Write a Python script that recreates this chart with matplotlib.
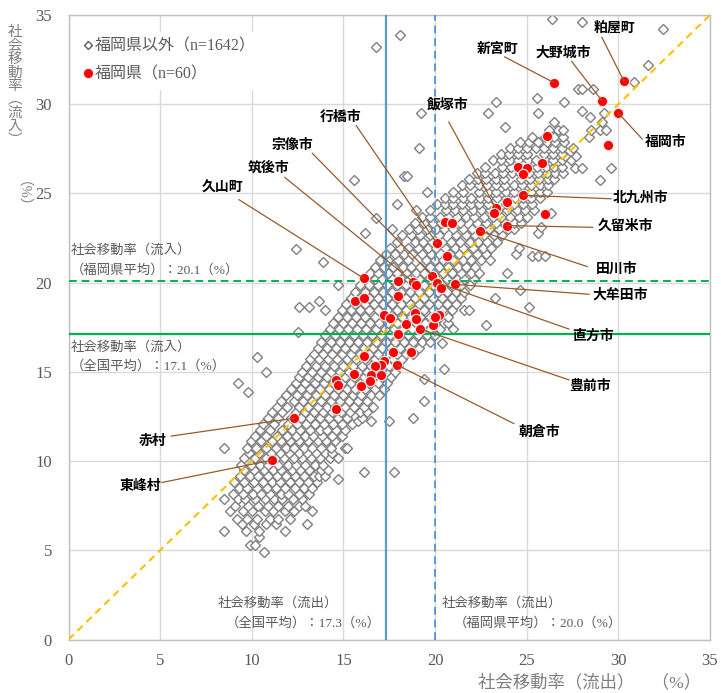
import matplotlib
matplotlib.use("Agg")
import matplotlib.pyplot as plt
from matplotlib.lines import Line2D

# ---------------------------------------------------------------------------
# Data: social migration rate (out-flow %, in-flow %) per municipality
# ---------------------------------------------------------------------------

# Municipalities outside Fukuoka prefecture, grouped by in-flow rate (y) -> out-flow rates (x)
other_rows = [
    (4.9, [10.65]),
    (5.3, [9.9, 10.2]),
    (5.75, [10.4]),
    (6.1, [8.5, 9.7, 10.4, 11.8]),
    (6.45, [9.45, 10.1, 10.75, 11.3, 13.0]),
    (6.75, [9.2, 9.75, 10.3, 11.0, 11.45, 12.1]),
    (7.2, [8.8, 9.5, 10.0, 10.7, 11.15, 11.8, 12.3, 13.3]),
    (7.5, [9.1, 9.8, 10.35, 10.9, 11.45, 12.0, 12.6, 12.9]),
    (7.85, [8.5, 9.25, 9.65, 10.15, 10.7, 11.2, 11.65, 12.25, 12.75]),
    (8.15, [9.0, 9.5, 10.05, 10.5, 11.0, 11.6, 12.0, 12.55, 13.1]),
    (8.5, [9.3, 9.75, 10.3, 10.85, 11.3, 11.8, 12.35, 12.85, 13.3]),
    (8.8, [9.05, 9.55, 10.1, 10.6, 11.1, 11.55, 12.1, 12.6, 13.05, 13.55]),
    (9.0, [14.7]),
    (9.15, [9.35, 9.9, 10.35, 10.9, 11.4, 11.85, 12.35, 12.85, 13.4, 13.65, 14.0]),
    (9.4, [16.1, 17.75]),
    (9.5, [9.6, 10.1, 10.65, 11.15, 11.6, 12.2, 12.65, 13.1, 13.75, 14.15]),
    (9.8, [9.4, 9.95, 10.45, 10.9, 11.45, 11.95, 12.4, 12.9, 13.45, 13.9]),
    (10.15, [9.6, 10.2, 10.75, 11.3, 11.75, 12.3, 12.75, 13.25, 13.7, 14.25, 14.7]),
    (10.45, [9.85, 10.4, 11.05, 11.55, 12.05, 12.55, 13.0, 13.5, 14.0, 14.4]),
    (10.75, [8.5, 9.75, 10.25, 10.8, 11.3, 11.85, 12.3, 12.85, 13.3, 13.8, 14.3, 15.1, 15.2]),
    (11.1, [9.95, 10.5, 11.1, 11.6, 12.1, 12.55, 13.05, 13.6, 14.05, 14.55]),
    (11.4, [10.2, 10.75, 11.4, 11.9, 12.4, 12.9, 13.35, 13.85, 14.35, 14.9]),
    (11.75, [10.45, 11.0, 11.65, 12.2, 12.65, 13.2, 13.7, 14.1, 14.6, 15.1]),
    (12.05, [10.6, 11.2, 11.95, 12.45, 12.95, 13.45, 13.95, 14.45, 14.9, 15.45]),
    (12.25, [15.8, 16.5, 17.5]),
    (12.4, [10.9, 11.45, 12.15, 12.7, 13.2, 13.7, 14.2, 14.7, 15.2, 16.0, 18.8]),
    (12.75, [11.1, 11.65, 12.4, 12.9, 13.4, 13.9, 14.35, 14.85, 15.35, 15.9, 16.3]),
    (13.05, [11.35, 11.9, 12.6, 13.05, 13.6, 14.1, 14.55, 15.1, 15.55, 16.1, 16.6]),
    (13.35, [11.6, 12.3, 12.8, 13.3, 13.8, 14.3, 14.8, 15.3, 15.8, 16.3, 19.4]),
    (13.7, [11.85, 12.45, 13.0, 13.5, 14.0, 14.5, 15.0, 15.5, 15.95, 16.5, 16.95]),
    (13.85, [9.8]),
    (14.05, [12.15, 12.7, 13.2, 13.7, 14.2, 14.7, 15.2, 15.65, 16.15, 16.7, 17.2]),
    (14.35, [9.25, 12.4, 12.9, 13.45, 13.95, 14.45, 14.9, 15.4, 15.9, 16.4, 16.9, 17.35]),
    (14.6, [19.4]),
    (14.7, [12.55, 13.05, 13.6, 14.1, 14.6, 15.1, 15.6, 16.1, 16.6, 17.1, 17.6]),
    (15.0, [10.8, 12.75, 13.3, 13.8, 14.3, 14.8, 15.3, 15.8, 16.3, 16.8, 17.3, 17.8]),
    (15.15, [20.5]),
    (15.35, [12.95, 13.5, 14.0, 14.5, 15.0, 15.5, 16.0, 16.5, 17.0, 17.5, 18.0]),
    (15.7, [13.15, 13.65, 14.15, 14.65, 15.2, 15.7, 16.2, 16.7, 17.2, 17.7, 18.2]),
    (15.85, [10.3]),
    (16.0, [13.4, 13.9, 14.4, 14.9, 15.4, 15.9, 16.4, 16.9, 17.4, 17.9, 18.4, 18.8]),
    (16.35, [13.6, 14.1, 14.6, 15.1, 15.6, 16.1, 16.6, 17.1, 17.6, 18.1, 18.6, 19.1]),
    (16.6, [20.4]),
    (16.7, [13.8, 14.3, 14.8, 15.3, 15.8, 16.3, 16.8, 17.3, 17.8, 18.3, 18.8, 19.3, 19.7]),
    (17.05, [14.0, 14.55, 15.05, 15.55, 16.05, 16.55, 17.05, 17.55, 18.05, 18.55, 19.05,
             19.55, 20.0]),
    (17.25, [12.5]),
    (17.4, [14.25, 14.75, 15.25, 15.75, 16.25, 16.75, 17.25, 17.75, 18.25, 18.75, 19.25,
            19.75, 20.25, 21.0]),
    (17.6, [22.8]),
    (17.75, [14.45, 14.95, 15.45, 15.95, 16.45, 16.95, 17.45, 17.95, 18.45, 18.95, 19.45,
             19.95, 20.5, 20.7]),
    (18.1, [14.7, 15.2, 15.7, 16.2, 16.7, 17.2, 17.7, 18.2, 18.7, 19.2, 19.7, 20.2, 20.7]),
    (18.45, [14.0, 14.9, 15.4, 15.9, 16.4, 16.9, 17.4, 17.9, 18.4, 18.9, 19.4, 19.9, 20.4,
             20.9, 21.6, 21.85]),
    (18.65, [12.6, 13.1, 25.1]),
    (18.8, [15.15, 15.65, 16.15, 16.65, 17.15, 17.65, 18.15, 18.65, 19.15, 19.65, 20.15,
            20.65, 21.15]),
    (18.95, [13.65]),
    (19.15, [15.4, 15.9, 16.4, 16.9, 17.4, 17.9, 18.4, 18.9, 19.4, 19.9, 20.4, 20.9, 21.4,
             23.25]),
    (19.5, [15.65, 16.15, 16.65, 17.15, 17.65, 18.15, 18.65, 19.15, 19.65, 20.15, 20.65,
            21.15, 21.6]),
    (19.6, [24.65]),
    (19.85, [14.7, 15.9, 16.4, 16.9, 17.4, 17.9, 18.4, 18.9, 19.4, 19.9, 20.4, 20.9, 21.4,
             21.9]),
    (20.2, [16.15, 16.7, 17.1, 17.65, 18.2, 18.6, 19.15, 19.7, 20.1, 20.65, 21.2, 21.6, 22.1]),
    (20.55, [16.45, 16.9, 17.45, 17.9, 18.4, 18.95, 19.4, 19.9, 20.45, 20.9, 21.4, 21.95,
             22.4, 23.9]),
    (20.9, [16.7, 17.2, 17.7, 18.25, 18.7, 19.2, 19.75, 20.2, 20.7, 21.25, 21.7, 22.2]),
    (21.15, [13.9]),
    (21.25, [17.0, 17.45, 18.0, 18.5, 19.5, 20.0, 20.45, 21.0, 21.5, 21.95, 22.5, 23.0]),
    (21.5, [25.3, 25.6, 26.0]),
    (21.6, [17.3, 17.8, 18.3, 18.75, 19.3, 19.8, 20.8, 21.3, 21.75, 22.3, 22.8, 24.4]),
    (21.9, [12.4]),
    (21.95, [17.55, 18.1, 18.55, 19.05, 19.6, 20.05, 20.55, 21.1, 21.55, 22.05, 22.6, 23.05,
             24.6]),
    (22.3, [17.9, 18.9, 19.35, 19.85, 20.4, 20.85, 21.35, 21.9, 22.35, 22.85, 23.4]),
    (22.65, [18.2, 18.7, 19.2, 19.7, 20.2, 21.15, 21.7, 22.2, 22.65, 23.2, 23.65]),
    (22.8, [16.2, 25.6]),
    (23.0, [17.65, 18.6, 19.05, 19.55, 20.05, 20.5, 21.0, 21.5, 22.0, 22.5, 22.95, 23.5, 24.0,
            24.3]),
    (23.1, [25.8]),
    (23.35, [18.9, 19.4, 19.9, 20.35, 20.85, 21.35, 22.3, 22.8, 23.3, 23.8, 24.3, 24.7]),
    (23.65, [16.75]),
    (23.7, [19.3, 19.75, 20.25, 20.7, 21.2, 21.7, 22.15, 22.65, 23.15, 23.6, 24.1, 24.6, 25.0]),
    (23.9, [26.3]),
    (24.05, [18.95, 19.7, 20.6, 21.1, 21.55, 22.05, 22.5, 23.0, 23.45, 23.95, 24.45, 24.9,
             25.4]),
    (24.4, [17.95, 20.1, 20.55, 21.0, 21.45, 21.95, 22.4, 22.9, 23.85, 24.3, 24.8, 25.3]),
    (24.75, [20.55, 21.0, 21.5, 21.95, 22.45, 22.9, 23.4, 23.85, 24.35, 24.8, 25.25, 25.7]),
    (25.1, [19.55, 21.0, 21.5, 22.4, 22.9, 23.35, 23.85, 24.3, 24.8, 25.25, 25.75, 26.1]),
    (25.45, [21.45, 21.9, 22.4, 22.85, 23.35, 23.8, 24.3, 24.75, 25.25, 25.7, 26.15]),
    (25.75, [15.6, 29.0]),
    (25.8, [21.85, 22.35, 22.8, 23.3, 23.75, 24.7, 25.2, 25.65, 26.15, 26.5]),
    (26.0, [18.3, 18.45]),
    (26.15, [22.3, 22.75, 23.25, 23.7, 24.2, 24.65, 25.15, 25.6, 26.1, 26.55, 27.0]),
    (26.45, [27.65, 28.0, 29.6]),
    (26.5, [22.7, 23.65, 24.15, 24.6, 25.1, 25.55, 26.05, 26.5, 26.95]),
    (26.85, [23.15, 23.6, 24.1, 24.55, 25.05, 25.5, 26.0, 26.45, 26.95, 27.4]),
    (27.1, [27.1, 27.7]),
    (27.2, [23.6, 24.05, 24.55, 25.0, 25.95, 26.45, 26.9]),
    (27.55, [19.1, 24.1, 24.55, 25.0, 25.5, 25.95, 26.45, 26.9, 27.55]),
    (27.9, [24.65, 25.15, 25.6, 26.1, 26.55, 27.05]),
    (28.15, [25.3, 26.0, 26.5, 27.0, 28.4]),
    (28.55, [26.2, 26.7, 27.0, 28.5, 29.0, 29.3]),
    (28.7, [23.8]),
    (29.0, [26.5, 29.1]),
    (29.3, [28.45]),
    (29.5, [19.25, 22.9, 25.6, 29.2]),
    (29.6, [28.0]),
    (30.1, [23.3, 27.05]),
    (30.35, [25.55]),
    (30.85, [27.8, 28.0, 28.6]),
    (31.25, [30.85]),
    (32.2, [31.6]),
    (33.2, [16.8]),
    (33.9, [18.1]),
    (34.2, [32.45]),
    (34.6, [28.0]),
    (34.75, [26.4]),
]
other_x = [x for y, xs in other_rows for x in xs]
other_y = [y for y, xs in other_rows for x in xs]

# Fukuoka prefecture municipalities (out-flow %, in-flow %)
fuk_x = [30.3, 26.5, 29.1, 30.0, 29.45, 26.1, 25.85, 24.5, 25.0, 24.8,
         24.8, 26.0, 23.9, 23.3, 23.2, 23.9, 22.45, 20.55, 20.9, 20.1,
         20.65, 19.85, 18.8, 16.1, 21.1, 20.1, 20.3, 17.97, 18.95, 15.65,
         16.1, 17.97, 17.2, 17.55, 18.9, 18.95, 18.4, 19.9, 19.95, 20.2,
         19.2, 18.0, 17.7, 18.7, 16.1, 17.9, 17.2, 17.05, 16.7, 16.5,
         17.05, 15.6, 16.45, 15.97, 14.6, 14.7, 14.6, 12.3, 11.1, 20.0]
fuk_y = [31.3, 31.2, 30.2, 29.5, 27.7, 28.2, 26.7, 26.5, 26.45, 26.1,
         24.9, 23.85, 24.5, 24.2, 23.9, 23.2, 22.9, 23.4, 23.35, 22.2,
         21.5, 20.4, 20.05, 20.25, 19.9, 20.0, 19.7, 20.08, 19.85, 18.95,
         19.15, 19.26, 18.2, 18.0, 18.3, 17.95, 17.7, 17.6, 18.1, 18.2,
         17.4, 17.1, 16.1, 16.1, 15.9, 15.4, 15.6, 15.4, 15.35, 14.8,
         14.8, 14.9, 14.5, 14.2, 14.55, 14.25, 12.9, 12.4, 10.05, 18.05]

# Named municipalities: (name, point out-flow, point in-flow, label x, label y)
callouts = [
    ("粕屋町", 30.3, 31.3, 29.8, 34.3),
    ("新宮町", 26.5, 31.2, 23.4, 33.1),
    ("大野城市", 29.1, 30.2, 27.0, 32.9),
    ("福岡市", 30.0, 29.5, 32.6, 27.9),
    ("飯塚市", 23.3, 24.2, 20.7, 30.0),
    ("行橋市", 20.1, 22.2, 14.85, 29.3),
    ("宗像市", 19.85, 20.4, 12.2, 27.7),
    ("筑後市", 18.8, 20.05, 10.9, 26.45),
    ("久山町", 16.1, 20.25, 8.4, 25.3),
    ("北九州市", 24.8, 24.9, 31.2, 24.75),
    ("久留米市", 23.9, 23.2, 30.4, 23.2),
    ("田川市", 22.45, 22.9, 29.9, 20.8),
    ("大牟田市", 21.1, 19.9, 30.1, 19.35),
    ("直方市", 20.1, 20.0, 28.6, 17.0),
    ("豊前市", 19.2, 17.4, 28.45, 14.2),
    ("朝倉市", 17.9, 15.4, 25.7, 11.65),
    ("赤村", 12.3, 12.4, 4.6, 11.15),
    ("東峰村", 11.1, 10.05, 3.9, 8.6),
]
# Where each leader line leaves its label (out-flow, in-flow)
callout_starts = [
    (29.1, 33.75), (23.8, 32.65), (27.45, 32.4), (31.3, 28.05), (20.75, 29.0),
    (15.7, 28.8), (13.3, 27.25), (11.8, 25.9), (9.3, 24.65), (29.6, 24.7),
    (28.6, 23.1), (28.3, 20.9), (28.4, 19.35), (27.3, 17.4), (27.3, 14.55),
    (24.3, 12.1), (5.6, 11.4), (5.1, 8.8),
]

# Reference averages
nat_out, pref_out = 17.3, 20.0
nat_in, pref_in = 17.1, 20.1

ticks = [0, 5, 10, 15, 20, 25, 30, 35]

# ---------------------------------------------------------------------------
# Styling
# ---------------------------------------------------------------------------
JP = "Noto Sans CJK JP"
MIX = ["Liberation Serif", JP]
GRAY_TXT = "#595959"
BROWN = "#9A5A28"

fig = plt.figure(figsize=(7.21, 6.93), dpi=100)
ax = fig.add_axes([68.5 / 721, 1 - 639.5 / 693, (710 - 68.5) / 721, (639.5 - 15) / 693])

ax.set_xlim(0, 35)
ax.set_ylim(0, 35)
ax.set_xticks(ticks)
ax.set_yticks(ticks)
ax.grid(True, color="#D9D9D9", lw=1.0)
ax.set_axisbelow(True)
for sp in ax.spines.values():
    sp.set_color("#BFBFBF")
    sp.set_linewidth(1.0)
ax.tick_params(length=0, labelcolor=GRAY_TXT, labelsize=12)
ax.tick_params(axis="x", pad=10)
ax.tick_params(axis="y", pad=12)
for lab in ax.get_xticklabels() + ax.get_yticklabels():
    lab.set_fontfamily("Liberation Serif")

# Scatter of other prefectures
ax.plot(other_x, other_y, linestyle="none", marker="D", ms=4.6, mfc="white",
        mec="#808080", mew=1.0, zorder=2)

# Average lines and diagonal
ax.axvline(nat_out, color="#5B9BD5", lw=1.6, zorder=3)
ax.axvline(pref_out, color="#5B9BD5", lw=1.4, ls=(0, (4, 2.5)), zorder=3)
ax.axhline(nat_in, color="#00B050", lw=1.6, zorder=3)
ax.axhline(pref_in, color="#00B050", lw=1.4, ls=(0, (4, 2.5)), zorder=3)
ax.plot([0, 35], [0, 35], color="#FFC000", lw=1.5, ls=(0, (3.5, 2.5)), zorder=3)

# Fukuoka municipalities
ax.plot(fuk_x, fuk_y, linestyle="none", marker="o", ms=7.4, mfc="#FF0000",
        mec="#E6E6E6", mew=0.9, zorder=4)

# Callouts
for (name, px, py, lx, ly), (sx, sy) in zip(callouts, callout_starts):
    ax.plot([sx, px], [sy, py], color=BROWN, lw=0.9, zorder=5)
    ax.text(lx, ly, name, family=JP, fontweight="bold", fontsize=10,
            color="black", ha="center", va="center", zorder=6)

# Average annotations
ann_kw = dict(family=MIX, fontsize=9.6, color=GRAY_TXT, va="center", ha="left", zorder=6)
ax.text(0.1, 21.8, "社会移動率（流入）", **ann_kw)
ax.text(0.1, 20.7, "（福岡県平均）：20.1（%）", **ann_kw)
ax.text(0.1, 16.4, "社会移動率（流入）", **ann_kw)
ax.text(0.1, 15.3, "（全国平均）：17.1（%）", **ann_kw)
ax.text(8.15, 2.0, "社会移動率（流出）", **ann_kw)
ax.text(8.6, 0.92, "（全国平均）：17.3（%）", **ann_kw)
ax.text(20.35, 2.0, "社会移動率（流出）", **ann_kw)
ax.text(21.0, 0.92, "（福岡県平均）：20.0（%）", **ann_kw)

# Legend
handles = [
    Line2D([], [], linestyle="none", marker="D", ms=4.0, mfc="white", mec="#595959", mew=1.0),
    Line2D([], [], linestyle="none", marker="o", ms=7.4, mfc="#FF0000", mec="#E6E6E6", mew=0.9),
]
leg = ax.legend(handles, ["福岡県以外（n=1642）", "福岡県（n=60）"], loc="upper left",
                bbox_to_anchor=(0.0, 0.985), frameon=True, framealpha=1.0,
                edgecolor="white", facecolor="white", handlelength=0.6,
                handletextpad=0.15, labelspacing=0.75, borderpad=0.4,
                prop={"family": MIX, "size": 11.5})
for t in leg.get_texts():
    t.set_color(GRAY_TXT)
leg.set_zorder(7)

# Axis titles
fig.text(701 / 721, 1 - 683 / 693, "社会移動率（流出）　（%）", family=MIX, fontsize=12.5,
         color="#7F7F7F", ha="right", va="center")
ychars = ["社", "会", "移", "動", "率", "︵", "流", "入", "︶"]
for i, ch in enumerate(ychars):
    fig.text(15 / 721, 1 - (32 + 13.5 * i) / 693, ch, family=JP, fontsize=10.5,
             color="#7F7F7F", ha="center", va="center")
fig.text(15 / 721, 1 - 202 / 693, "（%）", family=MIX, fontsize=10.5, color="#7F7F7F",
         ha="center", va="center", rotation=-90)

fig.savefig("out.png", dpi=100)
